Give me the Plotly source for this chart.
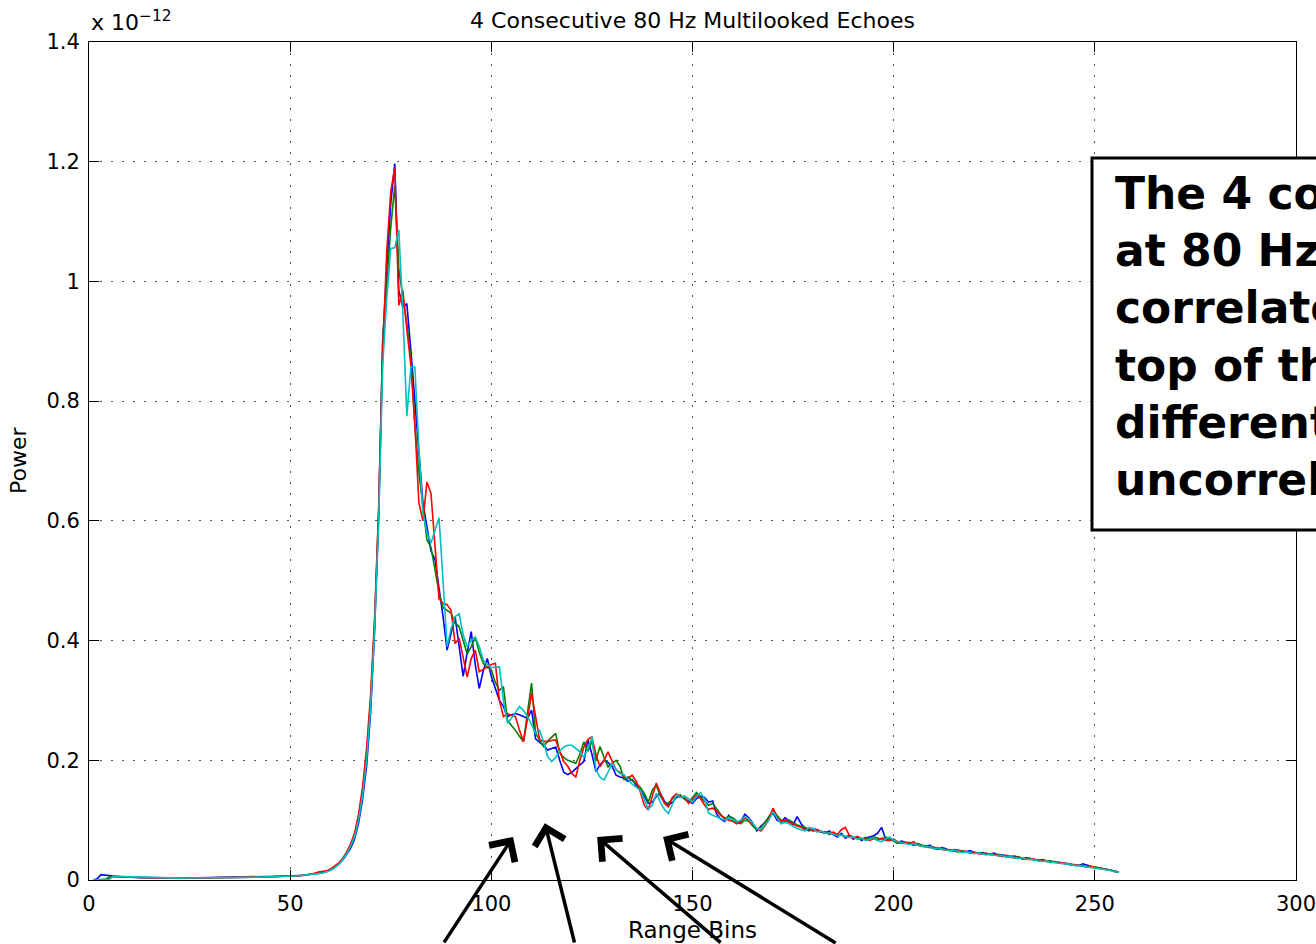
import plotly.graph_objects as go

# ---------------- data (power in units of 1e-12) ----------------
range_bins = list(range(1, 257))

blue_low = [0.000, 0.002, 0.009, 0.008, 0.007, 0.006, 0.0055, 0.005, 0.005, 0.0045,
            0.0044, 0.0042, 0.004, 0.0039, 0.0037, 0.0036, 0.0035, 0.0034, 0.0033, 0.0033,
            0.0032, 0.0032, 0.0033, 0.0033, 0.0034, 0.0034, 0.0035, 0.0035, 0.0036, 0.0036,
            0.0037, 0.0038, 0.0038, 0.0039, 0.004, 0.0041, 0.0042, 0.0043, 0.0044, 0.0045,
            0.0046, 0.0047, 0.0048, 0.005, 0.0052, 0.0054, 0.0056, 0.0058, 0.006, 0.0064,
            0.0068, 0.0072, 0.0078, 0.0084, 0.009, 0.0098, 0.0108, 0.012, 0.0138]
blue_peak = [0.017, 0.021, 0.026, 0.033, 0.042, 0.053, 0.068, 0.095, 0.135, 0.190,
             0.280, 0.420, 0.610, 0.900, 1.020, 1.130, 1.197, 0.985, 0.957, 0.963,
             0.885, 0.800, 0.700, 0.630, 0.590, 0.550, 0.535, 0.490, 0.440, 0.384,
             0.410, 0.440, 0.390, 0.340, 0.380, 0.415, 0.360, 0.320, 0.350, 0.370,
             0.340, 0.320, 0.300, 0.290, 0.273, 0.276, 0.278, 0.276, 0.273, 0.270,
             0.284, 0.236, 0.230, 0.225, 0.217, 0.220, 0.222, 0.200, 0.180, 0.176,
             0.180, 0.186, 0.192, 0.198, 0.234, 0.210, 0.181, 0.192, 0.200, 0.196,
             0.190, 0.175, 0.172]
blue_tail = [0.170, 0.165, 0.168, 0.158, 0.150, 0.140, 0.128, 0.130, 0.140, 0.145,
             0.132, 0.125, 0.130, 0.138, 0.140, 0.136, 0.132, 0.128, 0.136, 0.140,
             0.138, 0.130, 0.132, 0.110, 0.102, 0.098, 0.108, 0.100, 0.095, 0.098,
             0.110, 0.104, 0.095, 0.082, 0.090, 0.096, 0.104, 0.112, 0.100, 0.096,
             0.104, 0.098, 0.092, 0.106, 0.094, 0.086, 0.082, 0.086, 0.084, 0.080,
             0.078, 0.082, 0.076, 0.072, 0.078, 0.070, 0.074, 0.068, 0.072, 0.066,
             0.070, 0.072, 0.074, 0.078, 0.088, 0.068, 0.066, 0.068, 0.063, 0.065,
             0.063, 0.061, 0.058, 0.060, 0.057, 0.055, 0.058, 0.053, 0.051, 0.054,
             0.052, 0.049, 0.051, 0.050, 0.048, 0.047, 0.049, 0.046, 0.045, 0.046,
             0.044, 0.043, 0.045, 0.041, 0.042, 0.040, 0.039, 0.040, 0.038, 0.036,
             0.037, 0.035, 0.034, 0.033, 0.034, 0.032, 0.031, 0.030, 0.029, 0.029,
             0.027, 0.026, 0.025, 0.024, 0.027, 0.025, 0.022, 0.021, 0.020, 0.019,
             0.018, 0.016, 0.015, 0.013]

green_low = [0.000, 0.000, 0.000, 0.001, 0.005, 0.006, 0.0057, 0.0053, 0.005, 0.0047,
             0.0044, 0.0042, 0.004, 0.0038, 0.0037, 0.0036, 0.0035, 0.0034, 0.0033, 0.0033,
             0.0032, 0.0032, 0.0032, 0.0033, 0.0033, 0.0034, 0.0034, 0.0035, 0.0036, 0.0036,
             0.0037, 0.0037, 0.0038, 0.0039, 0.004, 0.004, 0.0041, 0.0042, 0.0043, 0.0045,
             0.0046, 0.0047, 0.0049, 0.005, 0.0052, 0.0054, 0.0055, 0.0058, 0.006, 0.0063,
             0.0066, 0.0070, 0.0076, 0.0083, 0.0090, 0.0100, 0.0112, 0.0128, 0.0148]
green_peak = [0.017, 0.022, 0.027, 0.034, 0.044, 0.057, 0.074, 0.104, 0.148, 0.210,
              0.300, 0.430, 0.620, 0.900, 0.990, 1.090, 1.160, 1.020, 0.975, 0.930,
              0.870, 0.760, 0.680, 0.620, 0.568, 0.556, 0.520, 0.480, 0.455, 0.451,
              0.446, 0.429, 0.423, 0.400, 0.378, 0.390, 0.406, 0.380, 0.362, 0.355,
              0.351, 0.330, 0.317, 0.323, 0.267, 0.258, 0.250, 0.240, 0.231, 0.280,
              0.329, 0.245, 0.235, 0.223, 0.232, 0.239, 0.245, 0.212, 0.205, 0.200,
              0.197, 0.195, 0.210, 0.231, 0.215, 0.232, 0.200, 0.223, 0.205, 0.189,
              0.195, 0.200, 0.190]
green_tail = [0.168, 0.172, 0.166, 0.160, 0.155, 0.145, 0.130, 0.150, 0.158, 0.140,
              0.130, 0.128, 0.136, 0.140, 0.142, 0.135, 0.130, 0.138, 0.146, 0.138,
              0.132, 0.125, 0.128, 0.118, 0.110, 0.102, 0.106, 0.104, 0.098, 0.094,
              0.100, 0.098, 0.090, 0.084, 0.088, 0.096, 0.106, 0.116, 0.108, 0.100,
              0.098, 0.100, 0.096, 0.092, 0.090, 0.088, 0.084, 0.082, 0.083, 0.080,
              0.081, 0.076, 0.079, 0.074, 0.076, 0.072, 0.075, 0.071, 0.070, 0.068,
              0.071, 0.068, 0.072, 0.070, 0.068, 0.072, 0.068, 0.065, 0.061, 0.063,
              0.062, 0.063, 0.059, 0.061, 0.058, 0.056, 0.054, 0.055, 0.052, 0.053,
              0.051, 0.050, 0.049, 0.047, 0.049, 0.046, 0.047, 0.045, 0.046, 0.044,
              0.043, 0.044, 0.042, 0.043, 0.040, 0.039, 0.040, 0.037, 0.039, 0.036,
              0.035, 0.036, 0.033, 0.034, 0.032, 0.031, 0.032, 0.029, 0.030, 0.028,
              0.028, 0.026, 0.025, 0.025, 0.024, 0.023, 0.021, 0.022, 0.020, 0.019,
              0.018, 0.016, 0.014, 0.013]

red_low = [0.000, 0.000, 0.000, 0.000, 0.002, 0.006, 0.0058, 0.0054, 0.005, 0.0046,
           0.0044, 0.0042, 0.004, 0.0038, 0.0037, 0.0036, 0.0035, 0.0034, 0.0033, 0.0033,
           0.0032, 0.0032, 0.0032, 0.0033, 0.0033, 0.0034, 0.0034, 0.0035, 0.0036, 0.0036,
           0.0037, 0.0037, 0.0038, 0.0039, 0.004, 0.004, 0.0041, 0.0042, 0.0043, 0.0045,
           0.0046, 0.0047, 0.0049, 0.005, 0.0052, 0.0054, 0.0055, 0.0058, 0.006, 0.0063,
           0.0068, 0.0072, 0.0077, 0.0084, 0.0092, 0.0112, 0.0134, 0.0140, 0.0152]
red_peak = [0.018, 0.023, 0.028, 0.036, 0.046, 0.060, 0.078, 0.110, 0.155, 0.220,
            0.310, 0.440, 0.620, 0.880, 1.050, 1.150, 1.190, 0.960, 0.985, 0.920,
            0.860, 0.760, 0.630, 0.600, 0.665, 0.646, 0.556, 0.470, 0.462, 0.460,
            0.450, 0.395, 0.404, 0.370, 0.339, 0.370, 0.384, 0.348, 0.352, 0.356,
            0.360, 0.362, 0.300, 0.273, 0.278, 0.275, 0.273, 0.250, 0.231, 0.270,
            0.312, 0.273, 0.234, 0.232, 0.231, 0.233, 0.234, 0.215, 0.198, 0.190,
            0.178, 0.172, 0.200, 0.222, 0.235, 0.239, 0.210, 0.189, 0.200, 0.214,
            0.200, 0.184, 0.180]
red_tail = [0.172, 0.170, 0.175, 0.165, 0.148, 0.125, 0.117, 0.140, 0.162, 0.145,
            0.128, 0.122, 0.138, 0.144, 0.138, 0.140, 0.128, 0.134, 0.142, 0.136,
            0.125, 0.118, 0.120, 0.115, 0.108, 0.104, 0.100, 0.098, 0.094, 0.097,
            0.104, 0.100, 0.092, 0.086, 0.082, 0.090, 0.102, 0.120, 0.106, 0.098,
            0.100, 0.096, 0.094, 0.090, 0.088, 0.084, 0.086, 0.082, 0.084, 0.081,
            0.080, 0.078, 0.080, 0.076, 0.084, 0.088, 0.074, 0.070, 0.073, 0.069,
            0.068, 0.066, 0.069, 0.067, 0.070, 0.066, 0.066, 0.068, 0.064, 0.061,
            0.063, 0.061, 0.064, 0.058, 0.056, 0.057, 0.055, 0.053, 0.054, 0.051,
            0.050, 0.051, 0.048, 0.049, 0.047, 0.048, 0.045, 0.047, 0.044, 0.043,
            0.045, 0.042, 0.043, 0.041, 0.039, 0.041, 0.038, 0.037, 0.038, 0.035,
            0.036, 0.034, 0.035, 0.032, 0.033, 0.031, 0.030, 0.031, 0.028, 0.029,
            0.027, 0.025, 0.026, 0.024, 0.023, 0.022, 0.023, 0.021, 0.020, 0.019,
            0.018, 0.016, 0.014, 0.013]

cyan_low = [0.000, 0.000, 0.000, 0.000, 0.001, 0.006, 0.0058, 0.0054, 0.005, 0.0047,
            0.0044, 0.0042, 0.004, 0.0038, 0.0037, 0.0036, 0.0035, 0.0034, 0.0033, 0.0033,
            0.0032, 0.0032, 0.0032, 0.0033, 0.0033, 0.0034, 0.0034, 0.0035, 0.0036, 0.0036,
            0.0037, 0.0037, 0.0038, 0.0039, 0.004, 0.004, 0.0041, 0.0042, 0.0043, 0.0045,
            0.0046, 0.0047, 0.0049, 0.005, 0.0052, 0.0054, 0.0055, 0.0058, 0.006, 0.0063,
            0.0067, 0.0071, 0.0076, 0.0082, 0.0088, 0.0096, 0.0106, 0.0118, 0.0135]
cyan_peak = [0.016, 0.020, 0.026, 0.034, 0.043, 0.056, 0.072, 0.100, 0.142, 0.200,
             0.290, 0.420, 0.600, 0.860, 0.970, 1.055, 1.056, 1.086, 0.950, 0.775,
             0.857, 0.857, 0.720, 0.613, 0.580, 0.563, 0.585, 0.605, 0.500, 0.390,
             0.420, 0.440, 0.445, 0.410, 0.390, 0.400, 0.406, 0.390, 0.367, 0.360,
             0.355, 0.356, 0.356, 0.300, 0.262, 0.270, 0.280, 0.290, 0.283, 0.273,
             0.260, 0.245, 0.250, 0.230, 0.206, 0.198, 0.205, 0.215, 0.222, 0.225,
             0.225, 0.220, 0.214, 0.205, 0.220, 0.239, 0.184, 0.172, 0.167, 0.180,
             0.195, 0.185, 0.178]
cyan_tail = [0.176, 0.168, 0.160, 0.155, 0.150, 0.135, 0.118, 0.125, 0.145, 0.130,
             0.118, 0.111, 0.128, 0.142, 0.138, 0.140, 0.136, 0.130, 0.140, 0.146,
             0.135, 0.112, 0.108, 0.105, 0.102, 0.100, 0.104, 0.101, 0.097, 0.100,
             0.106, 0.102, 0.094, 0.086, 0.084, 0.092, 0.100, 0.114, 0.104, 0.094,
             0.096, 0.094, 0.090, 0.086, 0.084, 0.082, 0.088, 0.086, 0.080, 0.082,
             0.078, 0.079, 0.077, 0.074, 0.075, 0.073, 0.071, 0.072, 0.068, 0.070,
             0.066, 0.068, 0.070, 0.066, 0.064, 0.068, 0.072, 0.066, 0.064, 0.062,
             0.061, 0.059, 0.061, 0.058, 0.057, 0.055, 0.056, 0.052, 0.053, 0.052,
             0.050, 0.049, 0.050, 0.048, 0.046, 0.047, 0.045, 0.044, 0.045, 0.043,
             0.042, 0.043, 0.041, 0.040, 0.041, 0.038, 0.039, 0.038, 0.036, 0.037,
             0.034, 0.035, 0.033, 0.032, 0.031, 0.032, 0.029, 0.030, 0.028, 0.028,
             0.027, 0.026, 0.024, 0.024, 0.023, 0.023, 0.021, 0.021, 0.020, 0.018,
             0.017, 0.016, 0.014, 0.013]

series_names = ["Echo 1", "Echo 2", "Echo 3", "Echo 4"]
series_colors = ["#0000ff", "#008000", "#ff0000", "#00bfbf"]
series_values = [blue_low + blue_peak + blue_tail,
                 green_low + green_peak + green_tail,
                 red_low + red_peak + red_tail,
                 cyan_low + cyan_peak + cyan_tail]

x_ticks = [0, 50, 100, 150, 200, 250, 300]
y_ticks = [0, 0.2, 0.4, 0.6, 0.8, 1.0, 1.2, 1.4]

# arrow heads (data coords) and tail offsets (px)
arrow_x = [105.4, 113.3, 126.3, 142.7]
arrow_y = [0.072, 0.095, 0.072, 0.072]
arrow_ax = [-70, 30, 125, 174]
arrow_ay = [107, 121, 107, 107]

note_lines = ["The 4 consecutive echoes", "at 80 Hz are highly",
              "correlated; the noise on", "top of them is",
              "different, i.e.", "uncorrelated"]

# ---------------- figure ----------------
fig = go.Figure()
for name, color, vals in zip(series_names, series_colors, series_values):
    fig.add_trace(go.Scatter(x=range_bins[:len(vals)], y=vals, mode="lines", name=name,
                             line=dict(color=color, width=1.6)))

base_font = "DejaVu Sans, Liberation Sans, Arial, sans-serif"
axis_common = dict(showline=True, linecolor="black", linewidth=1, mirror="ticks",
                   ticks="inside", ticklen=10, tickcolor="black", tickwidth=1,
                   showgrid=True, gridcolor="#555555", gridwidth=1.2, griddash="2px,9px",
                   zeroline=False, automargin=False,
                   tickfont=dict(family=base_font, size=21, color="black"))

fig.update_layout(
    width=1316, height=944,
    margin=dict(l=89, r=20, t=42, b=64),
    paper_bgcolor="white", plot_bgcolor="white",
    showlegend=False,
    title=dict(text="4 Consecutive 80 Hz Multilooked Echoes", x=0.5, xref="paper",
               y=1 - 20 / 944, yref="container", yanchor="middle", xanchor="center",
               font=dict(family=base_font, size=22, color="black")),
    xaxis=dict(range=[0, 300], tickvals=x_ticks, ticklabelstandoff=5,
               ticklabeloverflow="allow", **axis_common),
    yaxis=dict(range=[0, 1.4], tickvals=y_ticks, ticktext=[f"{v:g}" for v in y_ticks],
               ticklabelstandoff=4, **axis_common),
)

box_x0 = (1092 - 89) / 1207
box_y1 = (880 - 158) / 838
box_y0 = (880 - 530) / 838
fig.add_shape(type="rect", xref="paper", yref="paper", x0=box_x0, x1=1.1,
              y0=box_y0, y1=box_y1, line=dict(color="black", width=3),
              fillcolor="white", layer="above")

annotations = [
    dict(text="x 10<sup>\u221212</sup>", xref="paper", yref="paper", x=0, y=1,
         xanchor="left", yanchor="bottom", yshift=5, showarrow=False,
         font=dict(family=base_font, size=22, color="black")),
    dict(text="Power", xref="paper", yref="paper", x=0, y=0.5, xshift=-71,
         textangle=-90, showarrow=False, xanchor="center", yanchor="middle",
         font=dict(family=base_font, size=22, color="black")),
    dict(text="Range Bins", xref="paper", yref="paper", x=0.5, y=0, yshift=-50,
         showarrow=False, xanchor="center", yanchor="middle",
         font=dict(family=base_font, size=23, color="black")),
    dict(text="<br>".join(note_lines), xref="paper", yref="paper",
         x=(1113 - 89) / 1207, y=(880 - 166) / 838, xanchor="left", yanchor="top",
         align="left", showarrow=False,
         font=dict(family="Comic Sans MS, DejaVu Sans, sans-serif", size=44,
                   color="black", weight="bold")),
]
for hx, hy, tx, ty in zip(arrow_x, arrow_y, arrow_ax, arrow_ay):
    annotations.append(dict(text="", x=hx, y=hy, xref="x", yref="y", ax=tx, ay=ty,
                            showarrow=True, arrowhead=4, arrowsize=1.7, arrowwidth=3.5,
                            arrowcolor="black", standoff=0))
fig.update_layout(annotations=annotations)

fig.write_html("out.html")
